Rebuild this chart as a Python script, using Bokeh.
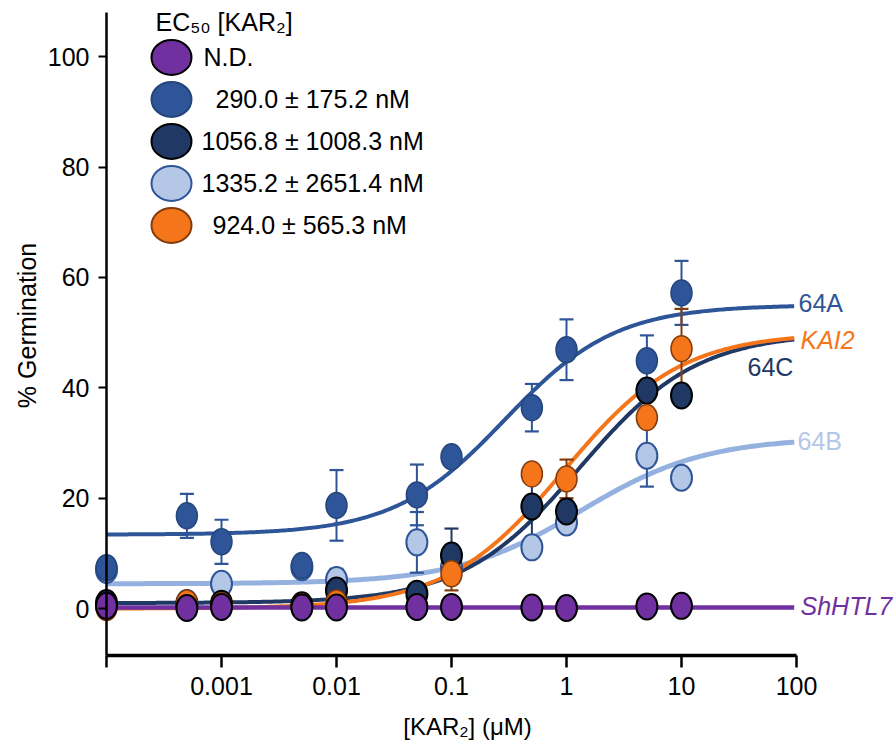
import numpy as np
from bokeh.plotting import figure
from bokeh.models import Range1d, FixedTicker, Label
from bokeh.core.properties import value
from bokeh.embed import file_html
from bokeh.resources import INLINE

# ---------------- data ----------------
conc = [0.0001, 0.0005, 0.001, 0.005, 0.01, 0.05, 0.1, 0.5, 1, 5, 10]   # µM (0 plotted at 1e-4)

y_64A = [7.4, 16.8, 12.1, 7.8, 18.7, 20.6, 27.5, 36.4, 46.9, 44.9, 57.2]
e_64A = [0, 4.0, 4.0, 0, 6.4, 5.5, 0, 4.3, 5.5, 4.6, 5.8]

y_64B = [7.0, 1.0, 4.5, 7.5, 5.2, 12.0, 7.5, 11.1, 15.6, 27.7, 23.7]
e_64B = [0, 0, 0, 0, 2.0, 5.5, 0, 0, 0, 5.6, 0]

y_64C = [1.0, 0.8, 0.9, 0.6, 3.3, 2.7, 9.6, 18.5, 17.6, 39.5, 38.6]
e_64C = [0, 0, 0, 0, 0, 0, 4.9, 6.7, 0, 0, 0]

y_KAI2 = [0.2, 1.0, 0.5, 0.3, 1.0, 0.3, 6.3, 24.4, 23.5, 34.6, 47.1]
e_KAI2 = [0, 0, 0, 0, 0, 0, 3.0, 0, 3.5, 0, 7.2]

y_HTL7 = [0.5, 0.1, 0.3, 0.2, 0.2, 0.3, 0.3, 0.2, 0.1, 0.4, 0.5]

# fitted logistic curves as drawn (bottom, top, midpoint in µM, Hill slope)
fit_64A = [13.4, 55.0, 0.290, 0.9]
fit_64B = [4.5, 31.0, 1.335, 0.8]
fit_64C = [1.0, 50.0, 1.30, 0.85]
fit_KAI2 = [0.0, 50.0, 0.95, 0.85]
fit_HTL7 = [0.2, 0.2, 1.0, 1.0]

legend_labels = ["N.D.", "290.0 \u00b1 175.2 nM", "1056.8 \u00b1 1008.3 nM",
                 "1335.2 \u00b1 2651.4 nM", "924.0 \u00b1 565.3 nM"]
legend_title = "EC\u2085\u2080 [KAR\u2082]"
x_title = "[KAR\u2082] (\u03bcM)"
y_title = "% Germination"

xtick_vals = [0.0001, 0.001, 0.01, 0.1, 1.0, 10.0, 100.0]
xtick_labels = ["", "0.001", "0.01", "0.1", "1", "10", "100"]
ytick_vals = [0, 20, 40, 60, 80, 100]
y_lo, y_hi = -8.5, 108

# ---------------- styles / layout ----------------
FONT = "Liberation Sans"
C_A, C_A_EDGE = "#2E5597", "#24467D"
C_B, C_B_LINE, C_B_EDGE = "#B4C7E7", "#94B1DF", "#2E5597"
C_C = "#1F3864"
C_K, C_K_EDGE = "#F5761A", "#843C0C"
C_P = "#7030A0"

PX_DEC = 115.0       # pixels per decade on x
PX_UNIT = 5.52       # pixels per % unit on y
AXIS_X_PX = 106      # y axis position on the page
AXIS_TOP_PX = 12     # top of the y axis
AXIS_BOT_PX = 655    # x axis position
AXIS_RIGHT_PX = 796  # right end of the x axis
FIG_W, FIG_H = 894, 740

x_start = 10 ** (np.log10(xtick_vals[0]) - AXIS_X_PX / PX_DEC)
x_end = 10 ** (np.log10(xtick_vals[-1]) + (FIG_W - AXIS_RIGHT_PX) / PX_DEC)
y_start = y_lo - (FIG_H - AXIS_BOT_PX) / PX_UNIT
y_end = y_hi + AXIS_TOP_PX / PX_UNIT

p = figure(width=FIG_W, height=FIG_H, x_axis_type="log",
           x_range=Range1d(x_start, x_end), y_range=Range1d(y_start, y_end),
           output_backend="svg", toolbar_location=None,
           min_border_left=0, min_border_right=0, min_border_top=0, min_border_bottom=0)
p.outline_line_color = None
p.xgrid.visible = False
p.ygrid.visible = False

xa = p.xaxis[0]
xa.fixed_location = y_lo
xa.ticker = FixedTicker(ticks=xtick_vals)
xa.major_label_overrides = dict(zip(xtick_vals, xtick_labels))
xa.bounds = (xtick_vals[0], xtick_vals[-1])
xa.axis_line_width = 3.5
xa.axis_line_color = "black"
xa.major_tick_line_width = 2.5
xa.major_tick_out = 12
xa.major_tick_in = 0
xa.minor_tick_line_color = None
xa.major_label_text_font = FONT
xa.major_label_text_font_size = "25px"
xa.major_label_text_color = "black"
xa.major_label_standoff = 9

ya = p.yaxis[0]
ya.fixed_location = xtick_vals[0]
ya.ticker = FixedTicker(ticks=ytick_vals)
ya.bounds = (y_lo, y_hi)
ya.axis_line_width = 2.5
ya.major_tick_line_width = 2
ya.major_tick_out = 8
ya.major_tick_in = 0
ya.minor_tick_line_color = None
ya.major_label_text_font = FONT
ya.major_label_text_font_size = "25px"
ya.major_label_text_color = "black"
ya.major_label_standoff = 9


def xr(dx):  # dx pixels right of the y axis
    return 10 ** (np.log10(xtick_vals[0]) + dx / PX_DEC)


def yr(dy):  # dy pixels below the top of the y axis
    return y_hi - dy / PX_UNIT


# axis titles
p.add_layout(Label(x=xr(467 - AXIS_X_PX), y=yr(726 - AXIS_TOP_PX), text=x_title,
                   text_font=FONT, text_font_size="24px", text_color="black",
                   text_align="center", text_baseline="middle"))
p.add_layout(Label(x=xr(26 - AXIS_X_PX), y=yr(325 - AXIS_TOP_PX), text=y_title, angle=np.pi / 2,
                   text_font=FONT, text_font_size="25px", text_color="black",
                   text_align="center", text_baseline="middle"))


def logistic(params, xs):
    b, t, ec, h = params
    return b + (t - b) / (1.0 + (ec / xs) ** h)


xs_fit = np.logspace(np.log10(xtick_vals[0]), np.log10(xtick_vals[-1]) - 0.02, 300)

# ---------------- fitted curves ----------------
p.line(xs_fit, logistic(fit_64B, xs_fit), line_color=C_B_LINE, line_width=5)
p.line(xs_fit, logistic(fit_64A, xs_fit), line_color=C_A, line_width=4)
p.line(xs_fit, logistic(fit_64C, xs_fit), line_color=C_C, line_width=4)
p.line(xs_fit, logistic(fit_KAI2, xs_fit), line_color=C_K, line_width=4)
p.line(xs_fit, logistic(fit_HTL7, xs_fit), line_color=C_P, line_width=4.5)


# ---------------- error bars ----------------
def errorbars(ys, es, color):
    x = [c for c, e in zip(conc, es) if e > 0]
    y = [v for v, e in zip(ys, es) if e > 0]
    e = [e for e in es if e > 0]
    lo = [a - b for a, b in zip(y, e)]
    hi = [a + b for a, b in zip(y, e)]
    p.segment(x0=x, y0=lo, x1=x, y1=hi, line_color=color, line_width=2)
    p.scatter(x=x + x, y=lo + hi, marker="dash", size=14, line_color=color, line_width=2.2)


errorbars(y_64B, e_64B, C_B_EDGE)
errorbars(y_64A, e_64A, C_A)
errorbars(y_64C, e_64C, C_C)
errorbars(y_KAI2, e_KAI2, C_K_EDGE)

# ---------------- data points ----------------
W, H = 21, 26
p.ellipse(conc, y_64B, width=W, height=H, width_units="screen", height_units="screen",
          fill_color=C_B, line_color=C_B_EDGE, line_width=2)
p.ellipse(conc, y_64A, width=W, height=H, width_units="screen", height_units="screen",
          fill_color=C_A, line_color=C_A_EDGE, line_width=1.5)
p.ellipse(conc, y_64C, width=W, height=H, width_units="screen", height_units="screen",
          fill_color=C_C, line_color="black", line_width=2)
p.ellipse(conc, y_KAI2, width=W, height=H, width_units="screen", height_units="screen",
          fill_color=C_K, line_color=C_K_EDGE, line_width=1.5)
p.ellipse(conc, y_HTL7, width=W, height=H, width_units="screen", height_units="screen",
          fill_color=C_P, line_color="black", line_width=2)

# ---------------- legend ----------------
leg_fill = [C_P, C_A, C_C, C_B, C_K]
leg_edge = ["black", C_A_EDGE, "black", C_A, C_K_EDGE]
leg_y = [yr(45 + 42 * i) for i in range(5)]
p.ellipse([xr(65)] * 5, leg_y, width=40, height=35, width_units="screen", height_units="screen",
          fill_color=leg_fill, line_color=leg_edge, line_width=2)
p.text([xr(95)] * 5, leg_y, text=legend_labels, x_offset=[2, 14, 0, 0, 11],
       text_font=value(FONT), text_font_size=value("25px"), text_baseline="middle",
       text_align="left", text_color="black")
p.text([xr(49)], [yr(10)], text=[legend_title], text_font=value(FONT),
       text_font_size=value("25px"), text_baseline="middle", text_align="left", text_color="black")

# ---------------- curve labels ----------------
curve_labels = [("64A", 55.4, 2, C_A, "normal"),
                ("KAI2", 48.6, 4, C_K, "italic"),
                ("64C", 43.7, -49, C_C, "normal"),
                ("64B", 30.3, 1, C_B, "normal"),
                ("ShHTL7", 0.5, 4, C_P, "italic")]
for txt, yy, dx, col, sty in curve_labels:
    p.add_layout(Label(x=xtick_vals[-1], y=yy, x_offset=dx, text=txt, text_font=FONT,
                       text_font_size="25px", text_font_style=sty, text_color=col,
                       text_baseline="middle", text_align="left"))

open("out.html", "w").write(file_html(p, INLINE))
